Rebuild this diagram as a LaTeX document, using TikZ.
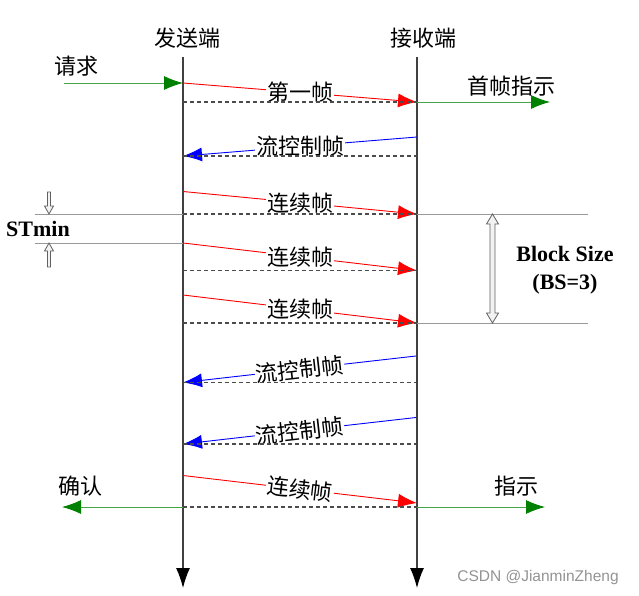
\documentclass[tikz,border=0pt]{standalone}
\usepackage{fontspec}
\setmainfont{Liberation Serif}
\newfontfamily\cjk{Noto Sans CJK SC}
\usetikzlibrary{arrows.meta}
\definecolor{arrgreen}{RGB}{0,128,0}
\definecolor{linegreen}{RGB}{70,165,70}
\tikzset{
	life/.style={line width=1.2pt, black!75, -{Latex[length=20pt,width=14pt,color=black]}},
	msg/.style={line width=0.9pt, -{Latex[length=19pt,width=14pt]}},
	ind/.style={line width=0.9pt, linegreen, -{Latex[length=19pt,width=14pt,color=arrgreen]}},
	gd/.style={line width=1.1pt, black!70, dash pattern=on 4pt off 3pt},
	gl/.style={line width=0.8pt, gray!80},
	hollow/.style={line width=0.8pt, draw=gray!75!black, fill=gray!10},
	txt/.style={inner sep=1pt, text=black, font=\cjk\fontsize{22}{22}\selectfont},
	lbl/.style={txt, fill=white, midway},
	bold/.style={inner sep=0pt, font=\bfseries\fontsize{22}{28}\selectfont, align=center}
}
\begin{document}
\begin{tikzpicture}[x=1pt,y=-1pt]
	\useasboundingbox (0,0) rectangle (639,596);
	\coordinate (sTop) at (183,57);
	\coordinate (sBot) at (183,588);
	\coordinate (rTop) at (417,57);
	\coordinate (rBot) at (417,588);
	\node[txt] (sendTitle) at (187,38) {发送端};
	\node[txt] (recvTitle) at (423,38) {接收端};
	\draw [life] (sTop) -- (sBot) ;% sender
	\draw [life] (rTop) -- (rBot) ;% receiver
	
	% first frame
	\coordinate (reqIn) at (64,83);
	\coordinate (s1) at (183,83);
	\coordinate (r1) at (417,102);
	\coordinate (ind1) at (550,102);
	\node[txt] (reqTxt) at (76,66) {请求};
	\node[txt] (firstInd) at (511,86) {首帧指示};
	\draw [ind] (reqIn) -- (s1);
	\draw [msg,red] (s1) -- (r1) node[lbl] (ff) {第一帧};
	\draw [ind] (r1) -- (ind1);
	\draw [gd] (s1 |- r1) -- (r1);
	
	% flow control
	\coordinate (r2) at (417,137);
	\coordinate (s2) at (183,156);
	\draw [msg,blue] (r2) -- (s2) node[lbl] (fc1) {流控制帧};
	\draw [gd] (s2) -- (s2 -| r2);
	
	% consecutive frames
	\coordinate (s3) at (183,191.5);
	\coordinate (r3) at (417,214);
	\coordinate (s4) at (183,243);
	\coordinate (r4) at (417,270.5);
	\coordinate (s5) at (183,295);
	\coordinate (r5) at (417,323);
	\draw [msg,red] (s3) -- (r3) node[lbl] (cf1) {连续帧};
	\draw [msg,red] (s4) -- (r4) node[lbl] (cf2) {连续帧};
	\draw [msg,red] (s5) -- (r5) node[lbl] (cf3) {连续帧};
	\draw [gd] (s3 |- r3) -- (r3);
	\draw [gd] (s4 |- r4) -- (r4);
	\draw [gd] (s5 |- r5) -- (r5);
	
	% STmin
	\coordinate (stA) at (35,214);
	\coordinate (stB) at (35,243);
	\coordinate (bsA) at (588,214);
	\coordinate (bsB) at (588,323);
	\draw [gl] (stA) -- (s3 |- r3);
	\draw [gl] (stB) -- (s4);
	\draw [gl] (r3) -- (bsA);
	\draw [gl] (r5) -- (bsB);
	\draw [hollow] (47.5,192) -- (50.5,192) -- (50.5,206) -- (53.5,206) -- (49,214) -- (44.5,206) -- (47.5,206) -- cycle;
	\draw [hollow] (49,243) -- (53.5,251) -- (50.5,251) -- (50.5,267) -- (47.5,267) -- (47.5,251) -- (44.5,251) -- cycle;
	\node[bold] (stTxt) at (38,229) {STmin};
	
	% block size
	\draw [hollow] (492.5,214) -- (498.5,224) -- (495,224) -- (495,313) -- (498.5,313) -- (492.5,323) -- (486.5,313) -- (490,313) -- (490,224) -- (486.5,224) -- cycle;
	\node[bold] (bsTxt) at (565,270) {Block Size\\(BS=3)};
	
	% flow control again
	\coordinate (r6) at (416,356);
	\coordinate (s6) at (183,382.5);
	\coordinate (r7) at (416,417.5);
	\coordinate (s7) at (183,444);
	\draw [msg,blue] (r6) -- (s6) node[lbl,sloped] (fc2) {流控制帧};
	\draw [msg,blue] (r7) -- (s7) node[lbl,sloped] (fc3) {流控制帧};
	\draw [gd] (s6) -- (s6 -| r6);
	\draw [gd] (s7) -- (s7 -| r7);
	
	% last frame
	\coordinate (s8) at (183,475.5);
	\coordinate (r8) at (417,503);
	\coordinate (ackOut) at (62,507);
	\coordinate (ind2) at (545,507);
	\coordinate (s9) at (183,507);
	\coordinate (r9) at (417,507);
	\node[txt] (ackTxt) at (80,486) {确认};
	\node[txt] (indTxt) at (516,486) {指示};
	\draw [msg,red] (s8) -- (r8) node[lbl,sloped] (cf4) {连续帧};
	\draw [ind] (s9) -- (ackOut);
	\draw [ind] (r9) -- (ind2);
	\draw [gd] (s9) -- (r9);
	
	\node[inner sep=0pt, gray!85, font=\fontspec{Liberation Sans}\fontsize{15.5}{16}\selectfont] (mark) at (538,577) {CSDN @JianminZheng};
\end{tikzpicture}
\end{document}
